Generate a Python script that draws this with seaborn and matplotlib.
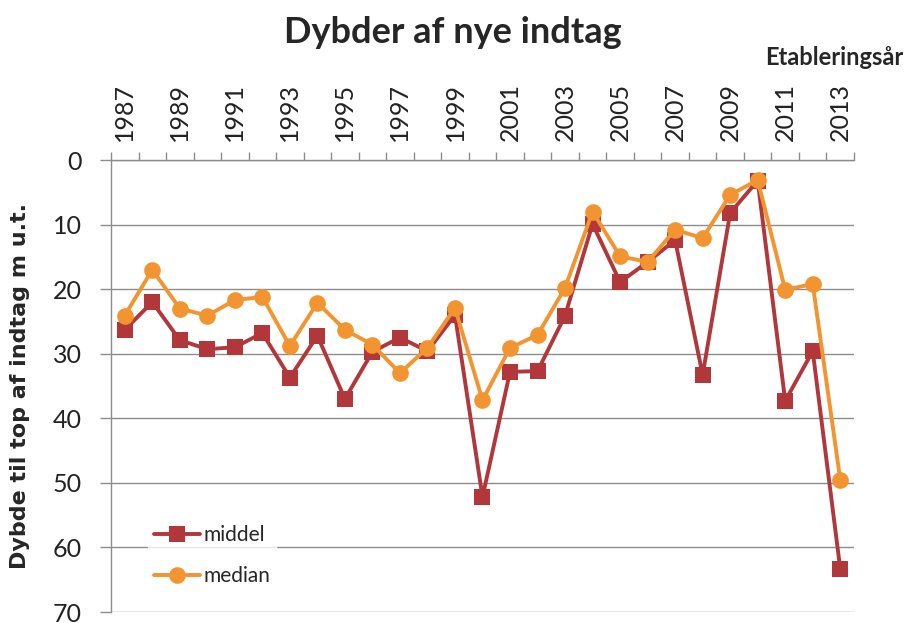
import numpy as np
import pandas as pd
import matplotlib
matplotlib.use("Agg")
import matplotlib.pyplot as plt
from matplotlib.ticker import MultipleLocator, FixedLocator
import seaborn as sns

years = list(range(1987, 2014))
middel = [26.3, 22.0, 27.9, 29.3, 29.0, 26.8, 33.7, 27.2, 37.0, 29.7,
          27.5, 29.6, 24.0, 52.2, 32.8, 32.7, 24.1, 9.9, 18.9, 15.8,
          12.4, 33.3, 8.2, 3.2, 37.3, 29.6, 63.3]
median = [24.1, 17.0, 23.0, 24.1, 21.7, 21.2, 28.8, 22.1, 26.3, 28.6,
          33.0, 29.1, 22.9, 37.2, 29.1, 27.1, 19.8, 8.0, 14.9, 15.8,
          10.8, 12.1, 5.4, 3.1, 20.1, 19.2, 49.5]
series_names = ["middel", "median"]
colors = ["#B2373A", "#F29430"]
markers = ["s", "o"]

df = pd.DataFrame({"Etableringsår": years * 2,
                   "Dybde": middel + median,
                   "serie": ["middel"] * len(years) + ["median"] * len(years)})

sns.set_style("white")
plt.rcParams["font.family"] = ["Lato", "DejaVu Sans"]

fig = plt.figure(figsize=(9.06, 6.23), dpi=100)
ax = fig.add_axes([111 / 906, 1 - 612 / 623, 743 / 906, 452 / 623])

sns.lineplot(data=df, x="Etableringsår", y="Dybde", hue="serie", style="serie",
             hue_order=series_names, style_order=series_names,
             palette=colors, markers=markers, dashes=False,
             linewidth=2.8, markersize=12, markeredgewidth=0, ax=ax)

ax.set_xlim(1986.5, 2013.5)
ax.set_ylim(70, 0)
ax.yaxis.set_major_locator(MultipleLocator(10))
ax.grid(axis="y", color="#8C8C8C", linewidth=1)
ax.set_axisbelow(True)

ax.xaxis.tick_top()
ax.xaxis.set_label_position("top")
ax.set_xticks(years[::2])
ax.set_xticklabels([str(y) for y in years[::2]], rotation=90, fontsize=18)
ax.xaxis.set_minor_locator(FixedLocator(np.arange(1986.5, 2014, 1)))
ax.tick_params(axis="x", which="major", length=0, pad=14, colors="#222222")
ax.tick_params(axis="x", which="minor", length=6, width=1, color="#8C8C8C", top=True, bottom=False)
ax.tick_params(axis="y", which="major", length=8, width=1, color="#8C8C8C", labelsize=18,
               labelcolor="#222222", left=True, pad=13)

for side in ["right", "bottom"]:
    ax.spines[side].set_visible(False)
for side in ["left", "top"]:
    ax.spines[side].set_color("#8C8C8C")
    ax.spines[side].set_linewidth(1)

ax.set_xlabel("")
ax.set_ylabel("Dybde til top af indtag m u.t.", fontsize=16, fontweight="bold",
              family=["Liberation Sans Narrow", "DejaVu Sans"])
ax.yaxis.set_label_coords(-0.109, 0.5)

fig.text(0.5, 0.948, "Dybder af nye indtag", ha="center", va="center",
         fontsize=26, fontweight="bold")
fig.text(0.997, 0.908, "Etableringsår", ha="right", va="center",
         fontsize=17, fontweight="bold")

leg = ax.legend(loc="lower left", bbox_to_anchor=(0.036, 0.02), frameon=True,
                fontsize=15, handlelength=2.2, handletextpad=0.15, labelspacing=1.0,
                borderpad=0.3)
leg.get_frame().set_facecolor("white")
leg.get_frame().set_edgecolor("white")

fig.savefig("out.png", dpi=100, facecolor="white")
